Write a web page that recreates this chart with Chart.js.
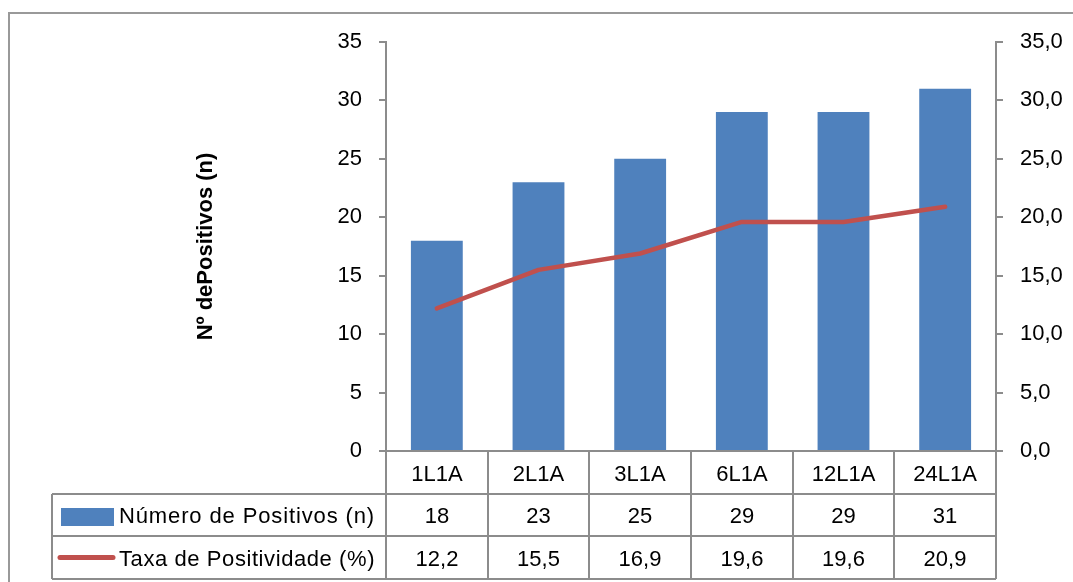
<!DOCTYPE html>
<html>
<head>
<meta charset="utf-8">
<script src="https://cdn.jsdelivr.net/npm/chart.js@4.4.1/dist/chart.umd.min.js"></script>
<style>
  html, body { margin: 0; padding: 0; background: #fff; }
  #wrap { width: 1073px; height: 582px; position: relative; }
</style>
</head>
<body>
<div id="wrap"><canvas id="chart" width="1073" height="582"></canvas></div>
<script>
const categories = ['1L1A', '2L1A', '3L1A', '6L1A', '12L1A', '24L1A'];
const positivos = [18, 23, 25, 29, 29, 31];
const taxa = [12.2, 15.5, 16.9, 19.6, 19.6, 20.9];
const seriesNames = ['Número de Positivos (n)', 'Taxa de Positividade (%)'];
const axisTitle = 'Nº dePositivos (n)';

const BLUE = '#4F81BD';
const RED = '#C0504D';
const GREY = '#8c8c8c';
const FONT = '"Liberation Sans", Arial, sans-serif';

Chart.defaults.font.family = FONT;
Chart.defaults.color = '#000';

const fmtComma = v => Number(v).toFixed(1).replace('.', ',');

// data table under the plot + outer frame
const tablePlugin = {
  id: 'dataTable',
  afterDraw(chart) {
    const ctx = chart.ctx;
    const xs = chart.scales.x;
    const area = chart.chartArea;
    const n = categories.length;
    const edges = [];
    for (let i = 0; i <= n; i++) edges.push(Math.round(xs.getPixelForValue(i - 0.5)));
    const top = Math.round(area.bottom);
    const rowH = 42.7;
    const rows = [top, Math.round(top + rowH), Math.round(top + 2 * rowH), Math.round(top + 3 * rowH)];
    const tableLeft = 52;

    ctx.save();
    ctx.strokeStyle = GREY;
    ctx.lineWidth = 2;
    ctx.beginPath();
    for (let r = 1; r < rows.length; r++) {
      ctx.moveTo(tableLeft, rows[r]);
      ctx.lineTo(edges[n], rows[r]);
    }
    edges.forEach(e => { ctx.moveTo(e, rows[0]); ctx.lineTo(e, rows[3]); });
    ctx.moveTo(tableLeft, rows[1]); ctx.lineTo(tableLeft, rows[3]);
    ctx.stroke();

    ctx.fillStyle = '#000';
    ctx.font = '22px ' + FONT;
    ctx.textAlign = 'center';
    ctx.textBaseline = 'middle';
    const mid = r => (rows[r] + rows[r + 1]) / 2 + 2;
    for (let i = 0; i < n; i++) {
      const cx = (edges[i] + edges[i + 1]) / 2;
      ctx.fillText(categories[i], cx, mid(0));
      ctx.fillText(String(positivos[i]), cx, mid(1));
      ctx.fillText(fmtComma(taxa[i]), cx, mid(2));
    }

    // legend keys
    ctx.fillStyle = BLUE;
    ctx.fillRect(61, Math.round(mid(1) - 9), 53, 18);
    ctx.strokeStyle = RED;
    ctx.lineWidth = 5;
    ctx.lineCap = 'round';
    ctx.beginPath();
    ctx.moveTo(60, mid(2) - 2); ctx.lineTo(113, mid(2) - 2);
    ctx.stroke();

    // series names spread to the width of the label column
    ctx.fillStyle = '#000';
    ctx.textAlign = 'left';
    const labelW = 256;
    seriesNames.forEach((name, k) => {
      ctx.letterSpacing = '0px';
      const w = ctx.measureText(name).width;
      const sp = Math.max(0, (labelW - w) / name.length);
      ctx.letterSpacing = sp.toFixed(2) + 'px';
      ctx.fillText(name, 119, mid(k + 1));
    });
    ctx.letterSpacing = '0px';

    // outer chart frame
    ctx.strokeStyle = '#999';
    ctx.lineWidth = 2;
    ctx.lineCap = 'butt';
    ctx.beginPath();
    ctx.moveTo(9, 582); ctx.lineTo(9, 13); ctx.lineTo(1073, 13);
    ctx.stroke();
    ctx.restore();
  }
};

new Chart(document.getElementById('chart'), {
  type: 'bar',
  data: {
    labels: categories,
    datasets: [
      {
        type: 'line', label: seriesNames[1], data: taxa, yAxisID: 'y1', order: 0,
        borderColor: RED, borderWidth: 4.5, pointRadius: 0, tension: 0,
        borderCapStyle: 'round', borderJoinStyle: 'round'
      },
      {
        label: seriesNames[0], data: positivos, yAxisID: 'y', order: 1,
        backgroundColor: BLUE, barPercentage: 0.51, categoryPercentage: 1
      }
    ]
  },
  options: {
    responsive: false,
    animation: false,
    layout: { padding: { top: 42, bottom: 131, left: 0, right: 0 } },
    plugins: { legend: { display: false }, tooltip: { enabled: false } },
    scales: {
      x: {
        offset: true,
        grid: { display: false },
        ticks: { display: false },
        border: { display: true, color: GREY, width: 2 },
        afterFit: s => { s.height = 0; }
      },
      y: {
        position: 'left',
        min: 0, max: 35,
        ticks: { stepSize: 5, padding: 17, font: { size: 22 } },
        grid: { drawOnChartArea: false, drawTicks: true, tickLength: 7, color: GREY, lineWidth: 2 },
        border: { display: true, color: GREY, width: 2 },
        title: { display: true, text: axisTitle, font: { size: 22, weight: 'bold' }, padding: { top: 193, bottom: 0 } },
        afterFit: s => { s.width = 386; }
      },
      y1: {
        position: 'right',
        min: 0, max: 35,
        ticks: { stepSize: 5, padding: 17, font: { size: 22 }, callback: v => fmtComma(v) },
        grid: { drawOnChartArea: false, drawTicks: true, tickLength: 7, color: GREY, lineWidth: 2 },
        border: { display: true, color: GREY, width: 2 },
        afterFit: s => { s.width = 77; }
      }
    }
  },
  plugins: [tablePlugin]
});
</script>
</body>
</html>
